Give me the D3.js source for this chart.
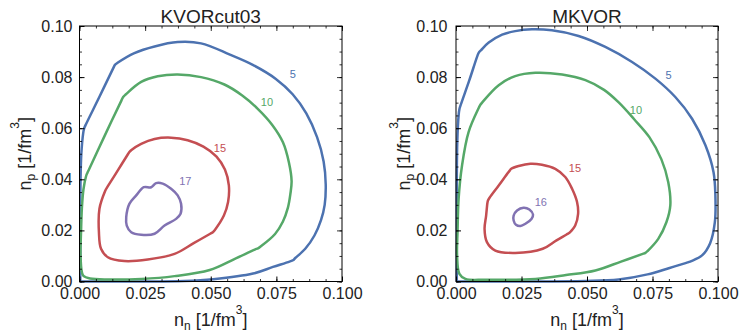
<!DOCTYPE html>
<html>
<head>
<meta charset="utf-8">
<script src="https://cdn.jsdelivr.net/npm/d3@7"></script>
<style>
  html, body { margin: 0; padding: 0; background: #fff; }
  svg { display: block; font-family: "Liberation Sans", Arial, Helvetica, sans-serif; }
</style>
</head>
<body>
<svg id="chart" width="742" height="332"></svg>
<script>
// ---------------- DATA ----------------
const panelTitles = ["KVORcut03", "MKVOR"];
const xTickValues = [0, 0.025, 0.05, 0.075, 0.1];
const yTickValues = [0, 0.02, 0.04, 0.06, 0.08, 0.1];
const levelNames = ["5", "10", "15", "17"];
const levelNamesMK = ["5", "10", "15", "16"];

// KVORcut03 contours [n_n, n_p]
const kvorLevel5 = [
  [0.0003, 0.0], [0.0003, 0.02], [0.0004, 0.04], [0.0007, 0.05], [0.0014, 0.058], [0.0018, 0.060], [0.0023, 0.0612],
  [0.0076, 0.0723], [0.0130, 0.0838], [0.0135, 0.0848], [0.0145, 0.0856], [0.0209, 0.0894], [0.0286, 0.0920],
  [0.0374, 0.0937], [0.0463, 0.0932], [0.0573, 0.0888], [0.0660, 0.0848], [0.0748, 0.0793], [0.0812, 0.0733],
  [0.0864, 0.0658], [0.0905, 0.0565], [0.0930, 0.0470], [0.0938, 0.0380], [0.0934, 0.0300],
  [0.0920, 0.0240], [0.0895, 0.0180], [0.0860, 0.0128], [0.0822, 0.0092], [0.0813, 0.0083], [0.0800, 0.0078],
  [0.0737, 0.0057], [0.0661, 0.0031], [0.0509, 0.0009], [0.040, 0.0002], [0.02, 0.0], [0.0003, 0.0]
];
const kvorLevel10 = [
  [0.0009, 0.0037], [0.0004, 0.0102], [0.0006, 0.020], [0.0009, 0.0285], [0.0015, 0.036], [0.0025, 0.0412],
  [0.0030, 0.0425], [0.0037, 0.0440], [0.0097, 0.0573], [0.0160, 0.0709], [0.0167, 0.0723], [0.0177, 0.0733],
  [0.0235, 0.0781], [0.0298, 0.0803], [0.0374, 0.0810], [0.0463, 0.0800], [0.0552, 0.0771], [0.0620, 0.0728],
  [0.0680, 0.0675], [0.0735, 0.0612], [0.0775, 0.0545], [0.0798, 0.0465], [0.0808, 0.0393], [0.0803, 0.0340],
  [0.0794, 0.0289], [0.0775, 0.0235], [0.0745, 0.0186], [0.0690, 0.0137], [0.0680, 0.0130], [0.0668, 0.0125],
  [0.0590, 0.0088], [0.0496, 0.0045], [0.0362, 0.0021], [0.0235, 0.0010], [0.0108, 0.0008], [0.0040, 0.0012],
  [0.0015, 0.0022]
];
const kvorLevel15 = [
  [0.0190, 0.0507], [0.0198, 0.0515], [0.0235, 0.0539], [0.0286, 0.0558], [0.0349, 0.0563], [0.0412, 0.0553],
  [0.0472, 0.0528], [0.0522, 0.0489], [0.0554, 0.0438], [0.0569, 0.0376], [0.0566, 0.0311],
  [0.0550, 0.0258], [0.0515, 0.0201], [0.0508, 0.0193], [0.0498, 0.0187], [0.0435, 0.0150], [0.0362, 0.0108],
  [0.0260, 0.0086], [0.0171, 0.0080], [0.0108, 0.0095], [0.0082, 0.0128], [0.0074, 0.0193], [0.0076, 0.0285],
  [0.0098, 0.0355], [0.0102, 0.0363], [0.0108, 0.0373], [0.0146, 0.0435], [0.0185, 0.0499]
];
const kvorLevel17 = [
  [0.0178, 0.0252], [0.0190, 0.0304], [0.0216, 0.0337], [0.0245, 0.0369], [0.0273, 0.0369],
  [0.0292, 0.0385], [0.0317, 0.0383], [0.0349, 0.0363], [0.0374, 0.0337], [0.0387, 0.0304],
  [0.0385, 0.0265], [0.0368, 0.0245], [0.0324, 0.0219], [0.0286, 0.0187], [0.0235, 0.0183],
  [0.0197, 0.0193], [0.0180, 0.0219]
];

// MKVOR contours [n_n, n_p]
const mkvorLevel5 = [
  [0.0003, 0.0], [0.0003, 0.02], [0.0003, 0.04], [0.0005, 0.055], [0.0010, 0.0650], [0.0013, 0.0674], [0.0017, 0.0688],
  [0.0050, 0.0785], [0.0082, 0.0884], [0.0087, 0.0896], [0.0096, 0.0906], [0.0125, 0.0935], [0.0176, 0.0966],
  [0.0226, 0.0980], [0.0290, 0.0987], [0.0366, 0.0983], [0.0468, 0.0961], [0.0570, 0.0918], [0.0672, 0.0859],
  [0.0761, 0.0794], [0.0837, 0.0722], [0.0901, 0.0637], [0.0952, 0.0533], [0.0983, 0.0428],
  [0.0990, 0.0337], [0.0988, 0.0232], [0.0970, 0.0150], [0.0939, 0.0102], [0.0898, 0.0080], [0.0888, 0.0076],
  [0.0876, 0.0072], [0.0812, 0.0052], [0.0731, 0.0028], [0.0621, 0.0008], [0.0494, 0.0002], [0.025, 0.0],
  [0.0003, 0.0]
];
const mkvorLevel10 = [
  [0.0013, 0.0030], [0.0004, 0.0102], [0.0006, 0.020], [0.0010, 0.0324], [0.0023, 0.0454],
  [0.0048, 0.0585], [0.0088, 0.0682], [0.0093, 0.0692], [0.0101, 0.0702], [0.0163, 0.0768], [0.0226, 0.0804],
  [0.0303, 0.0817], [0.0405, 0.0810], [0.0494, 0.0788], [0.0565, 0.0750], [0.0622, 0.0700], [0.0680, 0.0635],
  [0.0738, 0.0565], [0.0784, 0.0478], [0.0810, 0.0389], [0.0818, 0.0298], [0.0803, 0.0232],
  [0.0772, 0.0167], [0.0732, 0.0120], [0.0723, 0.0112], [0.0710, 0.0107], [0.0630, 0.0078], [0.0532, 0.0043],
  [0.0420, 0.0025], [0.0303, 0.0010], [0.0112, 0.0007], [0.0036, 0.0010]
];
const mkvorLevel15 = [
  [0.0211, 0.0441], [0.0239, 0.0452], [0.0284, 0.0461], [0.0328, 0.0457], [0.0379, 0.0441],
  [0.0417, 0.0409], [0.0443, 0.0363], [0.0462, 0.0311], [0.0466, 0.0265], [0.0455, 0.0219],
  [0.0440, 0.0198], [0.0433, 0.0191], [0.0422, 0.0184], [0.0382, 0.0160], [0.0331, 0.0128], [0.0226, 0.0112],
  [0.0150, 0.0121], [0.0118, 0.0154], [0.0109, 0.0206], [0.0115, 0.0258], [0.0120, 0.0308], [0.0122, 0.0317],
  [0.0128, 0.0328], [0.0163, 0.0376], [0.0205, 0.0434]
];
const mkvorLevel16 = [
  [0.0220, 0.0258], [0.0233, 0.0278], [0.0258, 0.0289], [0.0280, 0.0282], [0.0294, 0.0262],
  [0.0288, 0.0245], [0.0265, 0.0226], [0.0246, 0.0217], [0.0229, 0.0222], [0.0220, 0.0239]
];

// label anchor positions in data coords
const kvorLabelPos = [[0.0813, 0.0813], [0.0714, 0.0702], [0.0535, 0.0522], [0.0403, 0.0393]];
const mkvorLabelPos = [[0.0811, 0.0807], [0.0687, 0.0672], [0.0454, 0.0442], [0.0324, 0.0311]];

const colors = ["#4C72B0", "#55A868", "#C44E52", "#8172B2"];
const closedFlags = [false, true, true, true];

// ---------------- LAYOUT ----------------
const svg = d3.select("#chart");
const panels = [
  { title: panelTitles[0], x0: 79.5, x1: 342, levels: [kvorLevel5, kvorLevel10, kvorLevel15, kvorLevel17],
    names: levelNames, labelPos: kvorLabelPos, yPad: 7, yLabelX: 31 },
  { title: panelTitles[1], x0: 456, x1: 718, levels: [mkvorLevel5, mkvorLevel10, mkvorLevel15, mkvorLevel16],
    names: levelNamesMK, labelPos: mkvorLabelPos, yPad: 8.5, yLabelX: 410 }
];
const yTop = 26, yBot = 281.5;

panels.forEach(p => {
  const x = d3.scaleLinear().domain([0, 0.1]).range([p.x0, p.x1]);
  const y = d3.scaleLinear().domain([0, 0.1]).range([yBot, yTop]);
  const g = svg.append("g");

  // contours
  p.levels.forEach((pts, i) => {
    const line = d3.line()
      .x(d => x(d[0])).y(d => y(d[1]))
      .curve(closedFlags[i] ? d3.curveCatmullRomClosed.alpha(0.5) : d3.curveCatmullRom.alpha(0.5));
    g.append("path").attr("d", line(pts))
      .attr("fill", "none").attr("stroke", colors[i]).attr("stroke-width", 2.5)
      .attr("stroke-linejoin", "round");
    g.append("text").attr("x", x(p.labelPos[i][0])).attr("y", y(p.labelPos[i][1]))
      .attr("text-anchor", "middle").attr("dy", "0.35em")
      .attr("font-size", 11).attr("fill", colors[i]).text(p.names[i]);
  });

  // minor ticks
  const xMinor = d3.range(0, 0.1001, 0.00625);
  const yMinor = d3.range(0, 0.1001, 0.005);
  const mk = (axis, scale, vals, size, pos) => {
    const a = g.append("g").attr("transform", pos)
      .call(axis(scale).tickValues(vals).tickSize(-size).tickFormat(""));
    a.select(".domain").remove();
    a.selectAll("line").attr("stroke", "#000").attr("stroke-width", 0.8);
    return a;
  };
  mk(d3.axisBottom, x, xMinor, 2.5, `translate(0,${yBot})`);
  mk(d3.axisTop, x, xMinor, 2.5, `translate(0,${yTop})`);
  mk(d3.axisLeft, y, yMinor, 2.5, `translate(${p.x0},0)`);
  mk(d3.axisRight, y, yMinor, 2.5, `translate(${p.x1},0)`);
  mk(d3.axisTop, x, xTickValues, 5, `translate(0,${yTop})`);
  mk(d3.axisRight, y, yTickValues, 5, `translate(${p.x1},0)`);

  // major axes with labels
  const xa = g.append("g").attr("transform", `translate(0,${yBot})`)
    .call(d3.axisBottom(x).tickValues(xTickValues).tickSize(-5).tickPadding(6).tickFormat(d3.format(".3f")));
  xa.select(".domain").remove();
  xa.selectAll("line").attr("stroke", "#000");
  xa.selectAll("text").attr("font-size", 16).attr("fill", "#222").attr("font-family", null);

  const ya = g.append("g").attr("transform", `translate(${p.x0},0)`)
    .call(d3.axisLeft(y).tickValues(yTickValues).tickSize(-5).tickPadding(p.yPad).tickFormat(d3.format(".2f")));
  ya.select(".domain").remove();
  ya.selectAll("line").attr("stroke", "#000");
  ya.selectAll("text").attr("font-size", 16).attr("fill", "#222").attr("font-family", null);

  // frame
  g.append("rect").attr("x", p.x0).attr("y", yTop).attr("width", p.x1 - p.x0).attr("height", yBot - yTop)
    .attr("fill", "none").attr("stroke", "#000").attr("stroke-width", 1);

  // title
  const cx = (p.x0 + p.x1) / 2;
  g.append("text").attr("x", cx).attr("y", 22.5).attr("text-anchor", "middle")
    .attr("font-size", 19).attr("fill", "#222").text(p.title);

  // x label
  const xl = g.append("text").attr("x", cx).attr("y", 326).attr("text-anchor", "middle")
    .attr("font-size", 18).attr("fill", "#222");
  xl.append("tspan").text("n");
  xl.append("tspan").attr("font-size", 12).attr("dy", 4).text("n");
  xl.append("tspan").attr("dy", -4).text(" [1/fm");
  xl.append("tspan").attr("font-size", 12).attr("dy", -12).text("3");
  xl.append("tspan").attr("dy", 12).text("]");

  // y label
  const yl = g.append("text").attr("transform", `translate(${p.yLabelX},${(yTop + yBot) / 2}) rotate(-90)`)
    .attr("text-anchor", "middle").attr("font-size", 18).attr("fill", "#222");
  yl.append("tspan").text("n");
  yl.append("tspan").attr("font-size", 12).attr("dy", 4).text("p");
  yl.append("tspan").attr("dy", -4).text(" [1/fm");
  yl.append("tspan").attr("font-size", 12).attr("dy", -12).text("3");
  yl.append("tspan").attr("dy", 12).text("]");
});
</script>
</body>
</html>
